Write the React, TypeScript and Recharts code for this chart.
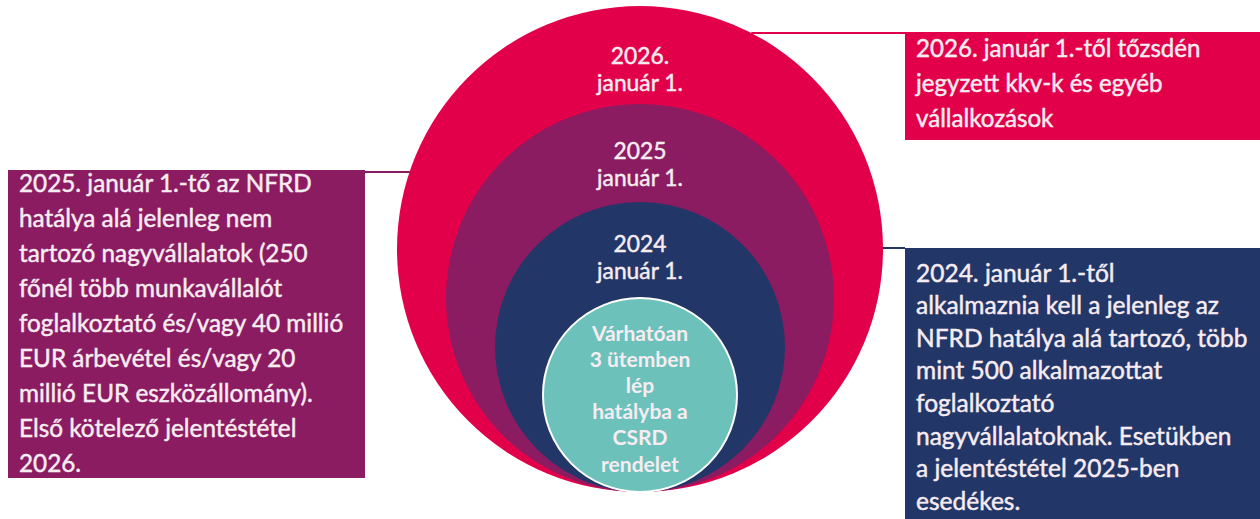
import React from 'react';
import {
  ScatterChart,
  XAxis,
  YAxis,
  Scatter,
  ReferenceDot,
  ReferenceLine,
  ReferenceArea,
} from 'recharts';

// ---------- content ----------
const phaseYears = ['2026.', '2025', '2024'];
const phaseDates = ['január 1.', 'január 1.', 'január 1.'];
const coreLines = ['Várhatóan', '3 ütemben', 'lép', 'hatályba a', 'CSRD', 'rendelet'];

const redBoxLines = [
  '2026. január 1.-től tőzsdén',
  'jegyzett kkv-k és egyéb',
  'vállalkozások',
];

const purpleBoxLines = [
  '2025. január 1.-tő az NFRD',
  'hatálya alá jelenleg nem',
  'tartozó nagyvállalatok (250',
  'főnél több munkavállalót',
  'foglalkoztató és/vagy 40 millió',
  'EUR árbevétel és/vagy 20',
  'millió EUR eszközállomány).',
  'Első kötelező jelentéstétel',
  '2026.',
];

const blueBoxLines = [
  '2024. január 1.-től',
  'alkalmaznia kell a jelenleg az',
  'NFRD hatálya alá tartozó, több',
  'mint 500 alkalmazottat',
  'foglalkoztató',
  'nagyvállalatoknak. Esetükben',
  'a jelentéstétel 2025-ben',
  'esedékes.',
];

// ---------- styling / geometry ----------
const W = 1260;
const H = 519;
const FONT = 'Lato, "Open Sans", sans-serif';
const COLORS = ['#E2004A', '#8B1C62', '#233668', '#6CC2BB'];
const TEXT_LIGHT = '#F6ECF1';

const CX = 640;
const BOTTOM = 492;
const RADII = [243, 194, 145, 97];
const YEAR_OFFSET = [49, 46, 41];
const LINE_GAP_CIRCLE = 27;

const BOXES = [
  { x1: 905, x2: 1260, y1: 32, y2: 140, color: COLORS[0], lines: redBoxLines, first: 47, gap: 35, size: 24.1 },
  { x1: 8, x2: 365, y1: 170, y2: 478, color: COLORS[1], lines: purpleBoxLines, first: 182, gap: 35, size: 24.3 },
  { x1: 905, x2: 1260, y1: 248, y2: 519, color: COLORS[2], lines: blueBoxLines, first: 272, gap: 32.6, size: 24.5 },
];

const cyOf = (i: number) => BOTTOM - RADII[i];
const edgeX = (i: number, y: number, side: 1 | -1) => {
  const dy = y - cyOf(i);
  return CX + side * Math.sqrt(RADII[i] * RADII[i] - dy * dy);
};

type TextItem = {
  x: number;
  y: number;
  text: string;
  size: number;
  anchor: 'start' | 'middle';
  weight: number;
};

const textItems: TextItem[] = [];
phaseYears.forEach((yr, i) => {
  const top = cyOf(i) - RADII[i];
  textItems.push({ x: CX, y: top + YEAR_OFFSET[i], text: yr, size: 22.8, anchor: 'middle', weight: 400 });
  textItems.push({ x: CX, y: top + YEAR_OFFSET[i] + LINE_GAP_CIRCLE, text: phaseDates[i], size: 22.8, anchor: 'middle', weight: 400 });
});
const coreTop = cyOf(3) - RADII[3];
coreLines.forEach((t, k) => {
  textItems.push({ x: CX, y: coreTop + 34 + k * 26.2, text: t, size: 21, anchor: 'middle', weight: 700 });
});
BOXES.forEach((b) => {
  b.lines.forEach((t, k) => {
    textItems.push({ x: b.x1 + 11, y: b.first + k * b.gap, text: t, size: b.size, anchor: 'start', weight: 400 });
  });
});

const TextShape = (props: any) => {
  const p = props.payload as TextItem;
  return (
    <text
      x={props.cx}
      y={props.cy}
      textAnchor={p.anchor}
      dominantBaseline="central"
      fontFamily={FONT}
      fontSize={p.size}
      fontWeight={p.weight}
      fill={TEXT_LIGHT}
      stroke={TEXT_LIGHT}
      strokeWidth={p.weight === 700 ? 0 : 0.45}
    >
      {p.text}
    </text>
  );
};

const connectors = [
  { y: 33, from: edgeX(0, 33, 1), to: 905, color: COLORS[0] },
  { y: 172, from: 365, to: edgeX(1, 172, -1), color: COLORS[1] },
  { y: 248, from: edgeX(2, 248, 1), to: 905, color: COLORS[2] },
];

export default function App() {
  return (
    <div style={{ position: 'absolute', left: 0, top: 0, width: W, height: H, background: '#fff' }}>
      <ScatterChart width={W} height={H} margin={{ top: 0, right: 0, bottom: 0, left: 0 }}>
        <XAxis type="number" dataKey="x" domain={[0, W]} hide allowDataOverflow />
        <YAxis type="number" dataKey="y" domain={[0, H]} reversed hide allowDataOverflow />
        {BOXES.map((b, i) => (
          <ReferenceArea
            key={`box${i}`}
            x1={b.x1}
            x2={b.x2}
            y1={b.y1}
            y2={b.y2}
            fill={b.color}
            fillOpacity={1}
            stroke="none"
            ifOverflow="visible"
          />
        ))}
        {RADII.map((r, i) => (
          <ReferenceDot
            key={`c${i}`}
            x={CX}
            y={cyOf(i)}
            r={r}
            fill={COLORS[i]}
            fillOpacity={1}
            stroke={i === 3 ? '#FFFFFF' : 'none'}
            strokeWidth={i === 3 ? 2 : 0}
            ifOverflow="visible"
          />
        ))}
        {connectors.map((c, i) => (
          <ReferenceLine
            key={`l${i}`}
            segment={[{ x: c.from, y: c.y }, { x: c.to, y: c.y }]}
            stroke={c.color}
            strokeWidth={2}
            ifOverflow="visible"
          />
        ))}
        <Scatter data={textItems} shape={TextShape} isAnimationActive={false} />
      </ScatterChart>
    </div>
  );
}
